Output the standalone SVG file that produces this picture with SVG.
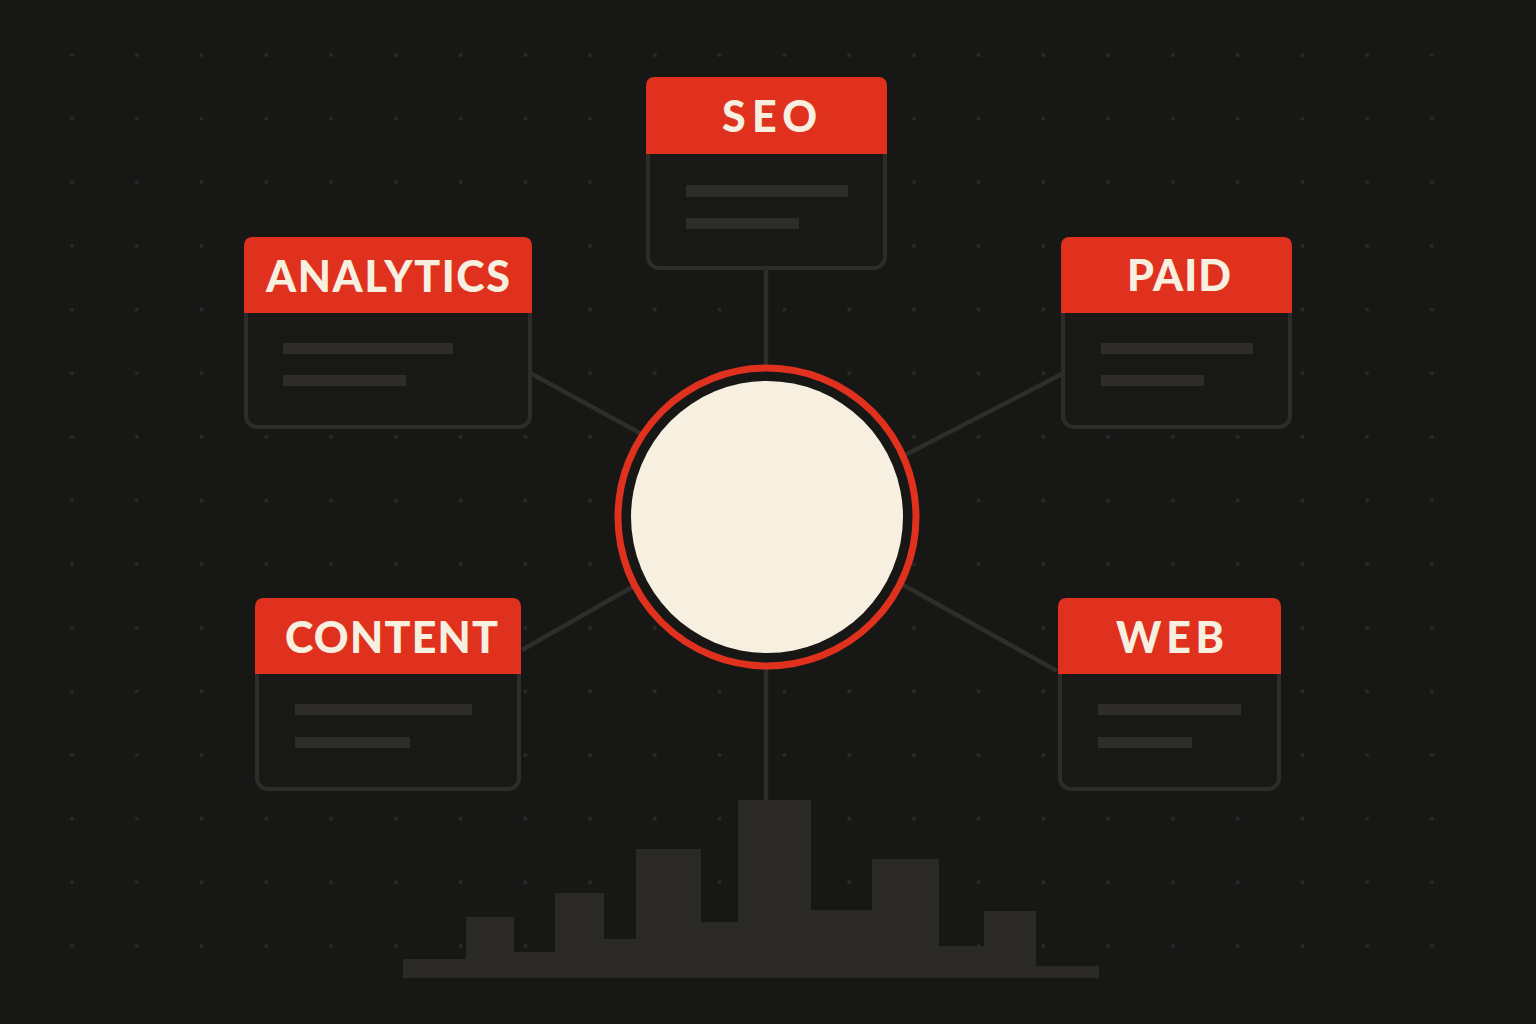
<svg xmlns="http://www.w3.org/2000/svg" width="1536" height="1024" viewBox="0 0 1536 1024">
  <defs>
    <style>
      .bg { fill: #171716; }
      .body { fill: #181817; stroke: #2d2c29; stroke-width: 4; }
      .head { fill: #e0311f; }
      .label { font-family: "Lato", "Liberation Sans", sans-serif; font-weight: 900; font-size: 43px; fill: #f7efdf; }
      .ph { fill: #2d2c29; }
      .conn { stroke: #2e2d2a; stroke-width: 4.5; fill: none; stroke-linecap: butt; }
      .chart { fill: #2b2926; }
    </style>
    <pattern id="dots" patternUnits="userSpaceOnUse" x="39.62" y="23.18" width="64.76" height="63.64">
      <circle cx="32.38" cy="31.82" r="2" fill="#2a2a28"/>
    </pattern>
  </defs>

  <rect class="bg" x="0" y="0" width="1536" height="1024"/>
  <rect x="39.62" y="23.18" width="1424.72" height="954.6" fill="url(#dots)"/>

  <!-- bar chart -->
  <g id="chart">
    <path class="chart" d="M403,978 V959 H466 V917 H514 V952 H555 V893 H604 V939 H636 V849 H701 V922 H738 V800 H811 V910 H872 V859 H939 V946 H984 V911 H1036 V966 H1099 V978 Z"/>
  </g>

  <!-- connectors -->
  <g id="connectors">
    <line class="conn" x1="766" y1="270" x2="766" y2="400"/>
    <line class="conn" x1="766" y1="640" x2="766" y2="800"/>
    <line class="conn" x1="530" y1="373" x2="660" y2="444"/>
    <line class="conn" x1="1062" y1="374" x2="880" y2="468"/>
    <line class="conn" x1="522" y1="650" x2="655" y2="574"/>
    <line class="conn" x1="1057" y1="671" x2="880" y2="572"/>
  </g>

  <!-- hub -->
  <g id="hub">
    <circle cx="767" cy="517" r="149" fill="#171716" stroke="#e0311f" stroke-width="7"/>
    <circle cx="767" cy="517" r="136" fill="#f7efdf"/>
  </g>

  <!-- SEO -->
  <g id="node-seo">
    <rect class="body" x="648" y="79" width="237" height="189" rx="11"/>
    <path class="head" d="M646,154 V86 Q646,77 655,77 H878 Q887,77 887,86 V154 Z"/>
    <text class="label" x="722" y="132" textLength="95" lengthAdjust="spacing">SEO</text>
    <rect class="ph" x="686" y="185" width="162" height="12"/>
    <rect class="ph" x="686" y="218" width="113" height="11"/>
  </g>

  <!-- ANALYTICS -->
  <g id="node-analytics">
    <rect class="body" x="246" y="239" width="284" height="188" rx="11"/>
    <path class="head" d="M244,313 V246 Q244,237 253,237 H523 Q532,237 532,246 V313 Z"/>
    <text class="label" x="266" y="292" textLength="244" lengthAdjust="spacing">ANALYTICS</text>
    <rect class="ph" x="283" y="343" width="170" height="11"/>
    <rect class="ph" x="283" y="375" width="123" height="11"/>
  </g>

  <!-- PAID -->
  <g id="node-paid">
    <rect class="body" x="1063" y="239" width="227" height="188" rx="11"/>
    <path class="head" d="M1061,313 V246 Q1061,237 1070,237 H1283 Q1292,237 1292,246 V313 Z"/>
    <text class="label" x="1127" y="291" textLength="104" lengthAdjust="spacing">PAID</text>
    <rect class="ph" x="1101" y="343" width="152" height="11"/>
    <rect class="ph" x="1101" y="375" width="103" height="11"/>
  </g>

  <!-- CONTENT -->
  <g id="node-content">
    <rect class="body" x="257" y="600" width="262" height="189" rx="11"/>
    <path class="head" d="M255,674 V607 Q255,598 264,598 H512 Q521,598 521,607 V674 Z"/>
    <text class="label" x="285" y="653" textLength="213" lengthAdjust="spacing">CONTENT</text>
    <rect class="ph" x="295" y="704" width="177" height="11"/>
    <rect class="ph" x="295" y="737" width="115" height="11"/>
  </g>

  <!-- WEB -->
  <g id="node-web">
    <rect class="body" x="1060" y="600" width="219" height="189" rx="11"/>
    <path class="head" d="M1058,674 V607 Q1058,598 1067,598 H1272 Q1281,598 1281,607 V674 Z"/>
    <text class="label" x="1116" y="653" textLength="108" lengthAdjust="spacing">WEB</text>
    <rect class="ph" x="1098" y="704" width="143" height="11"/>
    <rect class="ph" x="1098" y="737" width="94" height="11"/>
  </g>
</svg>
